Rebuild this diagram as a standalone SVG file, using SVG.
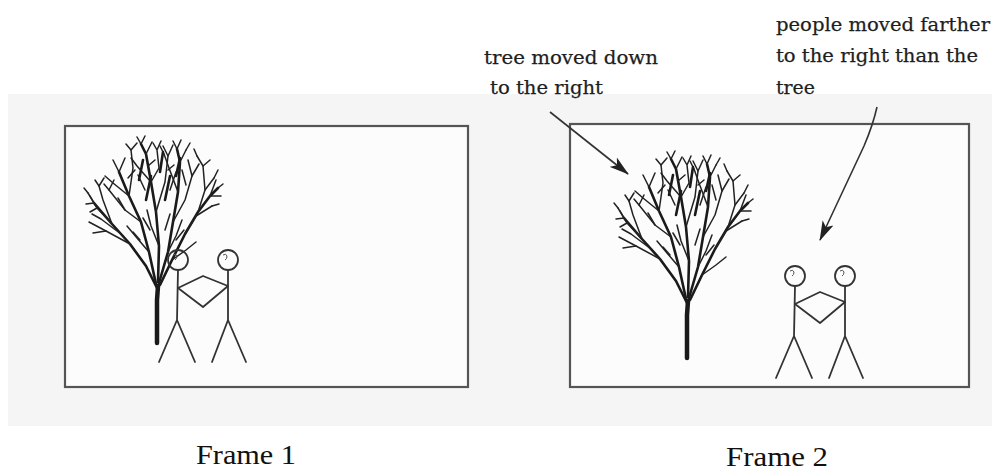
<svg xmlns="http://www.w3.org/2000/svg" xmlns:xlink="http://www.w3.org/1999/xlink" width="997" height="471" viewBox="0 0 997 471">
  <style>
    .frame { fill: #fcfcfc; stroke: #555; stroke-width: 2.2; }
    .note { font-family: "DejaVu Serif", "Liberation Serif", serif; font-size: 19px; fill: #1e1e1e; stroke: #1e1e1e; stroke-width: 0.25; }
    .cap { font-family: "Liberation Serif", "Times New Roman", serif; font-size: 28px; fill: #111; }
    .fig { fill: none; stroke: #333; stroke-width: 1.8; stroke-linecap: round; stroke-linejoin: round; }
    .trunk { fill: none; stroke: #1a1a1a; stroke-width: 4.5; stroke-linecap: round; }
    .br { fill: none; stroke: #1a1a1a; stroke-width: 2.6; stroke-linecap: round; stroke-linejoin: round; }
    .tw { fill: none; stroke: #222; stroke-width: 1.5; stroke-linecap: round; stroke-linejoin: round; }
    .ptr { fill: none; stroke: #333; stroke-width: 1.6; }
  </style>
  <defs>
    <marker id="head" viewBox="0 0 20 12" refX="19" refY="6" markerWidth="20" markerHeight="12" markerUnits="userSpaceOnUse" orient="auto">
      <path d="M0,0 L20,6 L0,12 L5,6 Z" fill="#222"/>
    </marker>

    <!-- bushy tree, trunk base at (157,343) -->
    <g id="tree">
      <path class="trunk" d="M157,343 L157,300 L158,286"/>
      <!-- far left limb -->
      <path class="br" d="M157,288 L146,266 L130,244 L112,224 L94,203"/>
      <path class="tw" d="M130,244 L106,231 L89,222"/>
      <path class="tw" d="M112,224 L97,208 L88,193"/>
      <path class="tw" d="M112,224 L103,200 L99,186"/>
      <path class="tw" d="M121,234 L101,219 L92,214"/>
      <path class="tw" d="M106,231 L93,233"/>
      <path class="tw" d="M94,203 L86,204 M94,203 L90,196 M99,186 L95,180 M99,186 L104,178"/>
      <path class="tw" d="M97,208 L90,212 M88,193 L84,188"/>
      <!-- left-centre limb -->
      <path class="br" d="M156,284 L149,252 L141,222 L129,196 L119,172"/>
      <path class="tw" d="M141,222 L125,210 L109,190"/>
      <path class="tw" d="M129,196 L113,183 L105,176"/>
      <path class="tw" d="M129,196 L133,168 L131,150"/>
      <path class="tw" d="M119,172 L113,160 M119,172 L125,158 M131,150 L126,144 M131,150 L137,143"/>
      <path class="tw" d="M149,252 L137,238 L127,226"/>
      <path class="tw" d="M109,190 L104,184 M109,190 L114,180 M125,210 L118,198"/>
      <!-- centre limb -->
      <path class="br" d="M158,282 L159,246 L156,212 L151,182 L146,154 L141,144"/>
      <path class="tw" d="M156,212 L165,182 L168,156"/>
      <path class="tw" d="M151,182 L137,166 L131,158"/>
      <path class="tw" d="M146,154 L152,142 M168,156 L163,146 M168,156 L173,145"/>
      <path class="tw" d="M159,246 L151,226 L147,210"/>
      <path class="tw" d="M151,182 L159,168 L157,150 M157,150 L153,143 M157,150 L161,141"/>
      <path class="tw" d="M141,144 L137,137 M141,144 L145,136"/>
      <!-- centre-right limb -->
      <path class="br" d="M159,283 L168,252 L173,222 L178,192 L180,162 L177,149"/>
      <path class="tw" d="M173,222 L185,200 L192,176"/>
      <path class="tw" d="M178,192 L169,168 L164,154"/>
      <path class="tw" d="M180,162 L186,150 M177,149 L173,141 M177,149 L181,140"/>
      <path class="tw" d="M192,176 L188,160 M192,176 L199,164"/>
      <path class="tw" d="M168,252 L176,236 L182,220"/>
      <path class="tw" d="M164,154 L160,146 M186,150 L190,143"/>
      <!-- right limb -->
      <path class="br" d="M160,285 L172,260 L185,234 L198,212 L210,196 L218,188"/>
      <path class="tw" d="M198,212 L205,190 L203,166 L197,156"/>
      <path class="tw" d="M185,234 L196,216 L212,206"/>
      <path class="tw" d="M210,196 L216,180 M210,196 L221,196 M218,188 L223,184"/>
      <path class="tw" d="M203,166 L210,160 M205,190 L214,178 M197,156 L194,149"/>
      <path class="tw" d="M172,260 L186,250 L196,242"/>
      <path class="tw" d="M212,206 L219,204 M214,178 L218,170"/>
      <!-- dense growth in the upper crown -->
      <path class="br" d="M146,200 L151,176 M165,200 L170,176 M139,180 L143,160 M160,172 L163,152 M176,176 L180,158"/>
      <path class="tw" d="M145,190 L138,175 M170,190 L176,172 M155,160 L148,166 M174,165 L168,170 M135,170 L128,178 M186,185 L182,170"/>
      <path class="tw" d="M150,230 L143,218 M165,230 L170,214 M140,240 L133,232 M176,240 L184,230"/>
    </g>

    <!-- two stick figures holding hands -->
    <g id="pair">
      <circle class="fig" cx="178" cy="260" r="10"/>
      <path d="M173,255 q3,-2 4,1 q0,3 -2,4" fill="none" stroke="#555" stroke-width="1"/>
      <path class="fig" d="M178,270 L177,320 M177,320 L159,362 M177,320 L195,362"/>
      <circle class="fig" cx="228" cy="260" r="10"/>
      <path d="M223,255 q3,-2 4,1 q0,3 -2,4" fill="none" stroke="#555" stroke-width="1"/>
      <path class="fig" d="M228,270 L228,320 M228,320 L212,362 M228,320 L246,362"/>
      <path class="fig" d="M178,288 L203,276 L228,286 L203,307 Z"/>
    </g>
  </defs>

  <!-- soft grey backdrop behind both frames -->
  <rect x="8" y="94" width="984" height="332" fill="#f5f5f5"/>

  <!-- Frame 1 -->
  <g id="frame1">
    <rect class="frame" x="65" y="126" width="403" height="261"/>
    <use xlink:href="#tree"/>
    <use xlink:href="#pair"/>
  </g>

  <!-- Frame 2 -->
  <g id="frame2">
    <rect class="frame" x="570" y="124" width="399" height="263"/>
    <use xlink:href="#tree" transform="translate(530,15)"/>
    <use xlink:href="#pair" transform="translate(617,16)"/>
  </g>

  <!-- annotation pointers -->
  <g id="connectors">
    <path class="ptr" d="M550,112 L628,174" marker-end="url(#head)"/>
    <path class="ptr" d="M877,107 Q873,125 864,146 L820,240" marker-end="url(#head)"/>
  </g>

  <!-- annotations -->
  <g id="labels">
    <text class="note" x="484" y="64" textLength="174" lengthAdjust="spacingAndGlyphs">tree moved down</text>
    <text class="note" x="490" y="94" textLength="113" lengthAdjust="spacingAndGlyphs">to the right</text>
    <text class="note" x="776" y="31" textLength="214" lengthAdjust="spacingAndGlyphs">people moved farther</text>
    <text class="note" x="776" y="62" textLength="202" lengthAdjust="spacingAndGlyphs">to the right than the</text>
    <text class="note" x="776" y="94" textLength="39" lengthAdjust="spacingAndGlyphs">tree</text>
    <text class="cap" x="196" y="464" textLength="100" lengthAdjust="spacingAndGlyphs">Frame 1</text>
    <text class="cap" x="726" y="466" textLength="102" lengthAdjust="spacingAndGlyphs">Frame 2</text>
  </g>
</svg>
